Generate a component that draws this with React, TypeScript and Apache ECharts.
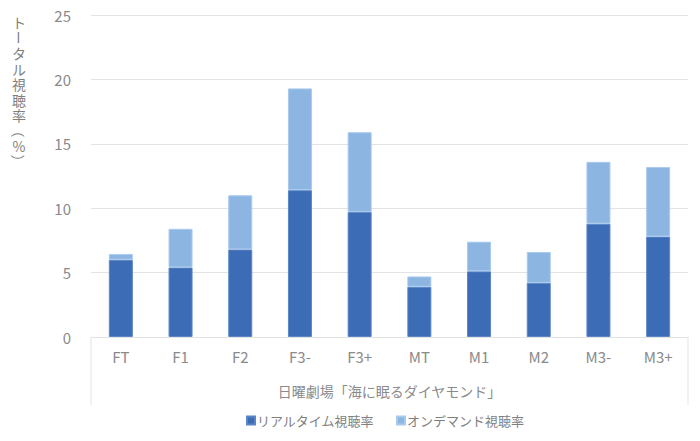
import React, { useEffect, useRef } from "react";
import * as echarts from "echarts";

const categories = ["FT", "F1", "F2", "F3-", "F3+", "MT", "M1", "M2", "M3-", "M3+"];
const realtime = [6.0, 5.4, 6.8, 11.4, 9.7, 3.9, 5.1, 4.2, 8.8, 7.8];
const ondemand = [0.45, 3.0, 4.2, 7.9, 6.2, 0.8, 2.3, 2.4, 4.8, 5.4];
const seriesNames = ["リアルタイム視聴率", "オンデマンド視聴率"];
const yAxisTitle = "トータル視聴率（%）";
const xAxisTitle = "日曜劇場「海に眠るダイヤモンド」";

const FONT = "'Noto Sans CJK JP', 'Noto Sans', sans-serif";
const ROTATED = ["ー", "（", "）"];

export default function App() {
  const ref = useRef<HTMLDivElement>(null);
  useEffect(() => {
    if (!ref.current) return;
    const chart = echarts.init(ref.current, undefined, { renderer: "svg" });
    const titleChars = yAxisTitle.split("").map((ch, i) => ({
      type: "text",
      x: 19,
      y: 22 + i * 15.5,
      rotation: ROTATED.includes(ch) ? -Math.PI / 2 : 0,
      style: {
        text: ch,
        fill: "#7f7f7f",
        fontSize: 14,
        lineHeight: 14,
        fontFamily: FONT,
        align: "center",
        verticalAlign: "middle",
      },
    }));
    chart.setOption({
      animation: false,
      textStyle: { fontFamily: FONT },
      grid: { left: 91, right: 12, top: 15, bottom: 104 },
      legend: {
        bottom: 9,
        left: 241,
        itemWidth: 8,
        itemHeight: 8,
        itemGap: 22,
        icon: "rect",
        textStyle: { color: "#7f7f7f", fontSize: 13, fontFamily: FONT, padding: [0, 0, 0, -3] },
        data: seriesNames,
      },
      xAxis: {
        type: "category",
        data: categories,
        axisLine: { lineStyle: { color: "#e3e3e3", width: 1 } },
        axisTick: { show: false },
        axisLabel: { color: "#8a8a8a", fontSize: 15, margin: 12, fontFamily: FONT },
        name: xAxisTitle,
        nameLocation: "middle",
        nameGap: 47,
        nameTextStyle: { color: "#8a8a8a", fontSize: 14, fontFamily: FONT },
      },
      yAxis: {
        type: "value",
        min: 0,
        max: 25,
        interval: 5,
        axisLine: { show: false },
        axisTick: { show: false },
        axisLabel: { color: "#8a8a8a", fontSize: 15, margin: 20, fontFamily: FONT },
        splitLine: { lineStyle: { color: "#e3e3e3", width: 1 } },
      },
      graphic: [
        ...titleChars,
        {
          type: "line",
          shape: { x1: 91, y1: 337, x2: 91, y2: 405 },
          style: { stroke: "#e3e3e3", lineWidth: 1 },
        },
        {
          type: "line",
          shape: { x1: 688, y1: 337, x2: 688, y2: 405 },
          style: { stroke: "#e3e3e3", lineWidth: 1 },
        },
      ],
      series: [
        {
          name: seriesNames[0],
          type: "bar",
          stack: "total",
          data: realtime,
          barWidth: 24,
          itemStyle: { color: "#3b6cb5", borderColor: "#5a86c6", borderWidth: 1 },
        },
        {
          name: seriesNames[1],
          type: "bar",
          stack: "total",
          data: ondemand,
          barWidth: 24,
          itemStyle: { color: "#8cb5e2", borderColor: "#a9caee", borderWidth: 1 },
        },
      ],
    });
    return () => chart.dispose();
  }, []);
  return (
    <div
      ref={ref}
      style={{ position: "absolute", left: 0, top: 0, width: 700, height: 441, background: "#fff" }}
    />
  );
}
